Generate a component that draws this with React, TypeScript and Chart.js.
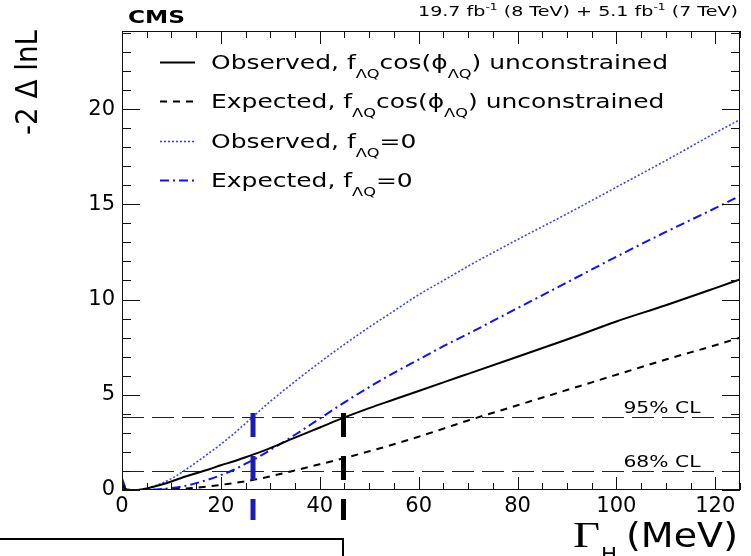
import React, { useEffect, useRef } from "react";
import { Chart, registerables } from "chart.js";

Chart.register(...registerables);

// Gamma_H grid (MeV)
const widthMeV = [0, 1, 3, 5, 7.5, 10, 12.5, 15, 17.5, 20, 22.5, 25, 27.5, 30, 35, 40, 45, 50, 55, 60, 65, 70, 80, 90, 100, 110, 120, 125];

// -2 Delta lnL curves
const obsUnconstrained = [0.3, 0.02, 0, 0.08, 0.25, 0.45, 0.68, 0.88, 1.08, 1.3, 1.5, 1.72, 1.95, 2.2, 2.75, 3.28, 3.81, 4.3, 4.75, 5.2, 5.65, 6.1, 7.0, 7.9, 8.85, 9.7, 10.6, 11.06];
const expUnconstrained = [0.2, 0.01, 0, 0, 0.01, 0.03, 0.07, 0.12, 0.19, 0.27, 0.36, 0.46, 0.58, 0.72, 1.03, 1.35, 1.68, 2.03, 2.4, 2.8, 3.22, 3.65, 4.45, 5.25, 6.05, 6.85, 7.6, 8.0];
const obsF0 = [0.3, 0.01, 0.01, 0.1, 0.3, 0.6, 1.0, 1.45, 1.92, 2.4, 2.93, 3.5, 4.08, 4.65, 5.7, 6.7, 7.65, 8.55, 9.4, 10.25, 11.0, 11.75, 13.15, 14.5, 15.9, 17.3, 18.75, 19.45];
const expF0 = [0.6, 0.02, 0, 0.01, 0.04, 0.1, 0.2, 0.36, 0.55, 0.78, 1.05, 1.38, 1.72, 2.1, 2.9, 3.75, 4.6, 5.4, 6.15, 6.85, 7.55, 8.2, 9.55, 10.9, 12.25, 13.55, 14.8, 15.45];

// confidence level lines
const clValues = [3.84, 1.0];
const clLabels = ["95% CL", "68% CL"];

// 95% CL upper limits (MeV)
const limitValues = [26.5, 44.8];
const limitColors = ["#1c1cb4", "#000000"];
const limitRange = [4.04, -1.57];

const xTicks = { min: 0, max: 125, step: 20, minor: 5 };
const yTicks = { min: 0, max: 24.1, step: 5, minor: 1 };

const FONT = "DejaVu Sans";

type Seg = { t: string; f: string; dy: number };

function richWidth(ctx: CanvasRenderingContext2D, segs: Seg[]) {
  let w = 0;
  for (const s of segs) {
    ctx.font = s.f;
    w += ctx.measureText(s.t).width;
  }
  return w;
}

function drawRich(ctx: CanvasRenderingContext2D, segs: Seg[], x: number, y: number, sx: number, align: string) {
  const w = richWidth(ctx, segs) * sx;
  let cx = align === "right" ? x - w : align === "center" ? x - w / 2 : x;
  ctx.save();
  ctx.textAlign = "left";
  ctx.textBaseline = "alphabetic";
  for (const s of segs) {
    ctx.font = s.f;
    const m = ctx.measureText(s.t).width;
    ctx.save();
    ctx.translate(cx, y + s.dy);
    ctx.scale(sx, 1);
    ctx.fillText(s.t, 0, 0);
    ctx.restore();
    cx += m * sx;
  }
  ctx.restore();
}

function fitText(ctx: CanvasRenderingContext2D, t: string, x: number, y: number, font: string, w: number, align: string) {
  const segs = [{ t, f: font, dy: 0 }];
  const sx = w / richWidth(ctx, segs);
  drawRich(ctx, segs, x, y, sx, align);
}

const decor = {
  id: "decor",
  beforeDatasetsDraw(chart: any) {
    const ctx = chart.ctx as CanvasRenderingContext2D;
    const { left, right } = chart.chartArea;
    const ys = chart.scales.y;
    ctx.save();
    ctx.strokeStyle = "#222";
    ctx.lineWidth = 1.2;
    ctx.setLineDash([22, 8]);
    for (const v of clValues) {
      const py = Math.round(ys.getPixelForValue(v)) + 0.5;
      ctx.beginPath();
      ctx.moveTo(left, py);
      ctx.lineTo(right, py);
      ctx.stroke();
    }
    ctx.restore();
  },
  afterDatasetsDraw(chart: any) {
    const ctx = chart.ctx as CanvasRenderingContext2D;
    const { left, right, top, bottom } = chart.chartArea;
    const xs = chart.scales.x;
    const ys = chart.scales.y;

    // frame
    ctx.save();
    ctx.strokeStyle = "#111";
    ctx.lineWidth = 1;
    ctx.strokeRect(left + 0.5, top + 0.5, right - left - 1, bottom - top - 1);
    // ticks
    ctx.beginPath();
    for (let v = yTicks.min; v <= yTicks.max + 1e-6; v += yTicks.minor) {
      const py = Math.round(ys.getPixelForValue(v)) + 0.5;
      const len = Math.abs(v % yTicks.step) < 1e-6 ? 18 : 9;
      ctx.moveTo(left, py);
      ctx.lineTo(left + len, py);
      ctx.moveTo(right, py);
      ctx.lineTo(right - len, py);
    }
    for (let v = xTicks.min; v <= xTicks.max + 1e-6; v += xTicks.minor) {
      const px = Math.round(xs.getPixelForValue(v)) + 0.5;
      const len = Math.abs(v % xTicks.step) < 1e-6 ? 13 : 7;
      ctx.moveTo(px, bottom);
      ctx.lineTo(px, bottom - len);
      ctx.moveTo(px, top);
      ctx.lineTo(px, top + len);
    }
    ctx.stroke();
    ctx.restore();

    // limit markers
    ctx.save();
    ctx.lineWidth = 5;
    ctx.setLineDash([24, 19]);
    limitValues.forEach((v, i) => {
      const px = xs.getPixelForValue(v);
      ctx.strokeStyle = limitColors[i];
      ctx.beginPath();
      ctx.moveTo(px, ys.getPixelForValue(limitRange[0]));
      ctx.lineTo(px, ys.getPixelForValue(limitRange[1]));
      ctx.stroke();
    });
    ctx.restore();

    ctx.save();
    ctx.fillStyle = "#000";
    // CL labels
    clValues.forEach((v, i) => {
      const py = ys.getPixelForValue(v) - 4;
      fitText(ctx, clLabels[i], xs.getPixelForValue(117), py, `15px ${FONT}`, 77, "right");
    });

    // header
    fitText(ctx, "CMS", 128, 23, `bold 18px ${FONT}`, 57, "left");
    const lumi: Seg[] = [
      { t: "19.7 fb", f: `14px ${FONT}`, dy: 0 },
      { t: "-1", f: `9px ${FONT}`, dy: -6 },
      { t: " (8 TeV) + 5.1 fb", f: `14px ${FONT}`, dy: 0 },
      { t: "-1", f: `9px ${FONT}`, dy: -6 },
      { t: " (7 TeV)", f: `14px ${FONT}`, dy: 0 },
    ];
    drawRich(ctx, lumi, 738, 16, 320 / richWidth(ctx, lumi), "right");

    // y title
    ctx.save();
    ctx.translate(37, 30);
    ctx.rotate(-Math.PI / 2);
    fitText(ctx, "-2 \u0394 lnL", 0, 0, `30px ${FONT}`, 105, "right");
    ctx.restore();

    // x title
    fitText(ctx, "\u0393", 573, 547, `36px "Liberation Serif"`, 27, "left");
    fitText(ctx, "H", 601, 561, `20px ${FONT}`, 16, "left");
    fitText(ctx, "(MeV)", 626, 547, `33px ${FONT}`, 112, "left");

    // legend
    const f = `20px ${FONT}`;
    const sf = `13px ${FONT}`;
    const sub = (t: string) => ({ t, f: sf, dy: 9 });
    const rows: Seg[][] = [
      [{ t: "Observed, f", f, dy: 0 }, sub("\u039bQ"), { t: "cos(\u03d5", f, dy: 0 }, sub("\u039bQ"), { t: ") unconstrained", f, dy: 0 }],
      [{ t: "Expected, f", f, dy: 0 }, sub("\u039bQ"), { t: "cos(\u03d5", f, dy: 0 }, sub("\u039bQ"), { t: ") unconstrained", f, dy: 0 }],
      [{ t: "Observed, f", f, dy: 0 }, sub("\u039bQ"), { t: "=0", f, dy: 0 }],
      [{ t: "Expected, f", f, dy: 0 }, sub("\u039bQ"), { t: "=0", f, dy: 0 }],
    ];
    const sx = 457 / richWidth(ctx, rows[0]);
    const baselines = [69, 108, 148, 187];
    const styles = chart.data.datasets;
    rows.forEach((r, i) => {
      drawRich(ctx, r, 211, baselines[i], sx, "left");
      const ds = styles[i];
      ctx.save();
      ctx.strokeStyle = ds.borderColor;
      ctx.lineWidth = ds.borderWidth;
      ctx.setLineDash(ds.borderDash || []);
      ctx.beginPath();
      ctx.moveTo(160, baselines[i] - 6.5);
      ctx.lineTo(195, baselines[i] - 6.5);
      ctx.stroke();
      ctx.restore();
    });

    // lower-left box
    ctx.strokeStyle = "#000";
    ctx.lineWidth = 2;
    ctx.setLineDash([]);
    ctx.strokeRect(-5, 539, 348, 40);
    ctx.restore();
  },
};

function series(vals: number[]) {
  return widthMeV.map((x, i) => ({ x, y: vals[i] }));
}

export default function App() {
  const ref = useRef<HTMLCanvasElement | null>(null);
  useEffect(() => {
    document.body.style.margin = "0";
    const canvas = ref.current!;
    const chart = new Chart(canvas, {
      type: "line",
      data: {
        datasets: [
          { label: "Observed unconstrained", data: series(obsUnconstrained), borderColor: "#000000", borderWidth: 2, borderDash: [], pointRadius: 0, cubicInterpolationMode: "monotone" },
          { label: "Expected unconstrained", data: series(expUnconstrained), borderColor: "#000000", borderWidth: 2, borderDash: [7, 6], pointRadius: 0, cubicInterpolationMode: "monotone" },
          { label: "Observed f=0", data: series(obsF0), borderColor: "#4040ff", borderWidth: 1.6, borderDash: [2, 2], pointRadius: 0, cubicInterpolationMode: "monotone" },
          { label: "Expected f=0", data: series(expF0), borderColor: "#1010ff", borderWidth: 2, borderDash: [9, 4, 2, 4], pointRadius: 0, cubicInterpolationMode: "monotone" },
        ] as any,
      },
      options: {
        responsive: false,
        animation: false,
        layout: { padding: { top: 31, right: 11, left: 0, bottom: 0 } },
        plugins: { legend: { display: false }, tooltip: { enabled: false } },
        scales: {
          x: {
            type: "linear",
            min: xTicks.min,
            max: xTicks.max,
            grid: { display: false, drawTicks: false },
            border: { display: false },
            ticks: { stepSize: xTicks.step, includeBounds: false, maxRotation: 0, padding: 4, color: "#000", font: { family: FONT, size: 21 } },
            afterFit: (s: any) => { s.height = 66; },
          },
          y: {
            type: "linear",
            min: yTicks.min,
            max: yTicks.max,
            grid: { display: false, drawTicks: false },
            border: { display: false },
            ticks: { stepSize: yTicks.step, includeBounds: false, padding: 7, color: "#000", font: { family: FONT, size: 21 } },
            afterFit: (s: any) => { s.width = 122; },
          },
        },
      } as any,
      plugins: [decor],
    });
    return () => chart.destroy();
  }, []);
  return <canvas ref={ref} width={751} height={556} style={{ display: "block" }} />;
}
